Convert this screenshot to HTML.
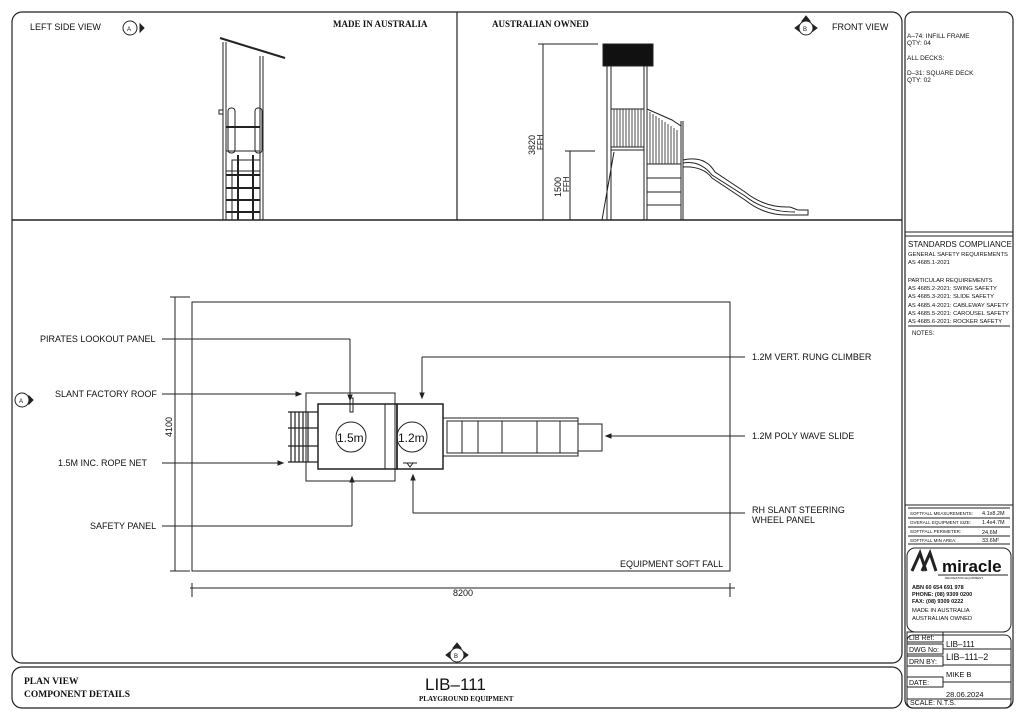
<!DOCTYPE html>
<html><head><meta charset="utf-8"><style>
body{margin:0;background:#fff}
svg{display:block}
text{font-family:"Liberation Sans",sans-serif;fill:#111}
.s{font-family:"Liberation Serif",serif;font-weight:bold}
</style></head><body>
<svg width="1024" height="723" viewBox="0 0 1024 723" fill="none" stroke="#222" stroke-width="1">
<rect x="12" y="12" width="890" height="651" rx="10" stroke-width="1.2"/>
<line x1="12" y1="220" x2="902" y2="220" stroke-width="1.5"/>
<line x1="457" y1="12" x2="457" y2="220" stroke-width="1.2"/>
<rect x="12" y="667" width="890" height="41" rx="10" stroke-width="1.2"/>
<rect x="905" y="12" width="108" height="696" rx="8" stroke-width="1.2"/>
<line x1="905" y1="232" x2="1013" y2="232"/>
<line x1="905" y1="236" x2="1013" y2="236"/>
<line x1="908" y1="326" x2="1010" y2="326"/>
<line x1="905" y1="505" x2="1013" y2="505"/>
<line x1="908" y1="508" x2="1010" y2="508"/>
<line x1="908" y1="518" x2="1010" y2="518"/>
<line x1="908" y1="527" x2="1010" y2="527"/>
<line x1="908" y1="536" x2="1010" y2="536"/>
<line x1="908" y1="544" x2="1010" y2="544"/>
<rect x="907" y="548" width="104" height="84" rx="8"/>
<rect x="907" y="635" width="104" height="73" rx="6"/>

<g stroke="none">
<text x="30" y="30" font-size="9">LEFT SIDE VIEW</text>
<text x="333" y="27" font-size="9" class="s">MADE IN AUSTRALIA</text>
<text x="492" y="27" font-size="9" class="s">AUSTRALIAN OWNED</text>
<text x="832" y="30" font-size="9">FRONT VIEW</text>
<text x="907" y="38" font-size="6.5">A–74: INFILL FRAME</text>
<text x="907" y="45" font-size="6.5">QTY: 04</text>
<text x="907" y="60" font-size="6.5">ALL DECKS:</text>
<text x="907" y="75" font-size="6.5">D–31: SQUARE DECK</text>
<text x="907" y="82" font-size="6.5">QTY: 02</text>
<text x="908" y="247" font-size="8">STANDARDS COMPLIANCE</text>
<text x="908" y="256" font-size="5.8">GENERAL SAFETY REQUIREMENTS</text>
<text x="908" y="264" font-size="5.8">AS 4685.1-2021</text>
<text x="908" y="282" font-size="5.8">PARTICULAR REQUIREMENTS</text>
<text x="908" y="290" font-size="5.8">AS 4685.2-2021: SWING SAFETY</text>
<text x="908" y="298" font-size="5.8">AS 4685.3-2021: SLIDE SAFETY</text>
<text x="908" y="307" font-size="5.8">AS 4685.4-2021: CABLEWAY SAFETY</text>
<text x="908" y="315" font-size="5.8">AS 4685.5-2021: CAROUSEL SAFETY</text>
<text x="908" y="323" font-size="5.8">AS 4685.6-2021: ROCKER SAFETY</text>
<text x="912" y="335" font-size="6">NOTES:</text>
<text x="910" y="515" font-size="4.5">SOFTFALL MEASUREMENTS:</text><text x="982" y="515" font-size="5.5">4.1x8.2M</text>
<text x="910" y="524" font-size="4.5">OVERALL EQUIPMENT SIZE:</text><text x="982" y="524" font-size="5.5">1.4x4.7M</text>
<text x="910" y="533" font-size="4.5">SOFTFALL PERIMETER:</text><text x="982" y="534" font-size="5.5">24.6M</text>
<text x="910" y="542" font-size="4.5">SOFTFALL MIN AREA:</text><text x="982" y="542" font-size="5.5">33.6M²</text>
<text x="942" y="572" font-size="17" font-weight="bold">miracle</text>
<text x="945" y="579" font-size="3">RECREATION EQUIPMENT</text>
<text x="912" y="589" font-size="5.5" font-weight="bold">ABN  60 654 691 978</text>
<text x="912" y="596" font-size="5.5" font-weight="bold">PHONE: (08) 9309 0200</text>
<text x="912" y="603" font-size="5.5" font-weight="bold">FAX:   (08) 9309 0222</text>
<text x="912" y="612" font-size="5.8">MADE IN AUSTRALIA</text>
<text x="912" y="620" font-size="5.8">AUSTRALIAN OWNED</text>
<text x="909" y="640" font-size="7">LIB Ref:</text>
<text x="946" y="647" font-size="8">LIB–111</text>
<text x="909" y="652" font-size="7">DWG No:</text>
<text x="946" y="660" font-size="9">LIB–111–2</text>
<text x="909" y="664" font-size="7">DRN BY:</text>
<text x="946" y="677" font-size="7.5">MIKE B</text>
<text x="909" y="685" font-size="7">DATE:</text>
<text x="946" y="697" font-size="7.5">28.06.2024</text>
<text x="910" y="705" font-size="7">SCALE: N.T.S.</text>
<text x="24" y="684" font-size="9.5" class="s">PLAN VIEW</text>
<text x="24" y="697" font-size="9.5" class="s">COMPONENT DETAILS</text>
<text x="425" y="690" font-size="17" font-weight="300" fill="#333">LIB–111</text>
<text x="419" y="701" font-size="7" class="s">PLAYGROUND EQUIPMENT</text>
</g>
<rect x="907" y="632" width="36" height="10"/><rect x="907" y="644" width="36" height="10"/><rect x="907" y="656" width="36" height="10"/><rect x="907" y="677" width="36" height="10"/>
<line x1="943" y1="649" x2="1011" y2="649"/><line x1="943" y1="665" x2="1011" y2="665"/><line x1="943" y1="682" x2="1011" y2="682"/><line x1="907" y1="699" x2="1011" y2="699"/>
<path d="M912 571 L920 553 L926 571 M922 571 L930 553 L936 571" stroke-width="3"/>
<line x1="938" y1="575" x2="1008" y2="575"/>

<g>
<circle cx="130" cy="28" r="7"/><polygon points="140,24 144,28 140,32" fill="#222"/>
<text x="127" y="31" font-size="6" stroke="none">A</text>
<circle cx="806" cy="28" r="7"/><polygon points="802,21 806,16 810,21" fill="#222"/><polygon points="799,25 795,28 799,31" fill="#222"/><polygon points="813,25 817,28 813,31" fill="#222"/>
<text x="803" y="31" font-size="6" stroke="none">B</text>
<circle cx="22" cy="400" r="7"/><polygon points="29,396 33,400 29,404" fill="#222"/>
<text x="19" y="403" font-size="6" stroke="none">A</text>
<circle cx="457" cy="655" r="7"/><polygon points="453,648 457,643 461,648" fill="#222"/><polygon points="450,652 446,655 450,658" fill="#222"/><polygon points="464,652 468,655 464,658" fill="#222"/>
<text x="454" y="658" font-size="6" stroke="none">B</text>
</g>

<g stroke-width="1">
<line x1="220" y1="38" x2="285" y2="58" stroke-width="2"/>
<line x1="223" y1="42" x2="223" y2="220"/><line x1="226" y1="42" x2="226" y2="220"/>
<line x1="260" y1="56" x2="260" y2="220"/><line x1="263" y1="56" x2="263" y2="220"/>
<rect x="228" y="108" width="7" height="45" rx="3"/><rect x="255" y="108" width="7" height="45" rx="3"/>
<rect x="219" y="110" width="4" height="4"/>
<line x1="226" y1="127" x2="260" y2="127" stroke-width="2"/>
<rect x="226" y="151" width="34" height="20"/>
<rect x="232" y="160" width="28" height="60"/>
<line x1="226" y1="175" x2="260" y2="175" stroke-width="2"/><line x1="226" y1="188" x2="260" y2="188" stroke-width="2"/><line x1="226" y1="200" x2="260" y2="200" stroke-width="2"/><line x1="226" y1="212" x2="260" y2="212" stroke-width="2"/>
<line x1="238" y1="155" x2="238" y2="220" stroke-width="2"/><line x1="253" y1="155" x2="253" y2="220" stroke-width="2"/>
</g>

<g>
<rect x="603" y="44" width="50" height="22" fill="#111"/>
<line x1="607" y1="66" x2="607" y2="220"/><line x1="611" y1="66" x2="611" y2="220"/>
<line x1="644" y1="66" x2="644" y2="220"/><line x1="647" y1="66" x2="647" y2="220"/>
<rect x="611" y="109" width="33" height="38"/>
<g stroke-width="0.8">
<path d="M614 109v38M617 109v38M620 109v38M623 109v38M626 109v38M629 109v38M632 109v38M635 109v38M638 109v38M641 109v38"/>
<path d="M650 112v52M653 114v50M656 116v48M659 118v46M662 120v44M665 122v42M668 124v40M671 126v38M674 128v36M677 130v34"/>
</g>
<path d="M647 109 L672 120 L681 126 L681 164 L647 164"/>
<line x1="681" y1="121" x2="681" y2="220"/><line x1="683" y1="121" x2="683" y2="220"/>
<line x1="611" y1="150" x2="644" y2="150"/>
<line x1="647" y1="178" x2="681" y2="178"/><line x1="647" y1="192" x2="681" y2="192"/><line x1="647" y1="205" x2="681" y2="205"/>
<line x1="614" y1="152" x2="602" y2="220"/>
<path d="M683 160 Q705 155 715 172 L745 192 Q765 208 790 207 L798 210 L808 210 L808 215 L790 215 Q765 216 745 200 L712 178 Q703 166 683 167"/>
<path d="M683 163 Q700 160 712 175 L745 196 Q765 212 795 212"/>
<line x1="538" y1="44" x2="598" y2="44"/><line x1="543" y1="44" x2="543" y2="220"/>
<line x1="565" y1="151" x2="595" y2="151"/><line x1="570" y1="151" x2="570" y2="220"/>
<g stroke="none">
<text transform="translate(535,155) rotate(-90)" font-size="9">3820</text>
<text transform="translate(543,150) rotate(-90)" font-size="8">FFH</text>
<text transform="translate(561,197) rotate(-90)" font-size="9">1500</text>
<text transform="translate(569,192) rotate(-90)" font-size="8">FFH</text>
</g>
</g>

<rect x="192" y="302" width="538" height="269"/>
<text x="620" y="567" font-size="9" stroke="none">EQUIPMENT SOFT FALL</text>
<line x1="170" y1="297" x2="190" y2="297"/><line x1="175" y1="297" x2="175" y2="571"/><line x1="170" y1="571" x2="190" y2="571"/>
<text transform="translate(172,437) rotate(-90)" font-size="9" stroke="none">4100</text>
<line x1="190" y1="588" x2="735" y2="588"/><line x1="192" y1="583" x2="192" y2="597"/><line x1="730" y1="583" x2="730" y2="597"/>
<text x="453" y="596" font-size="9" stroke="none">8200</text>

<rect x="306" y="393" width="89" height="88"/>
<rect x="318" y="404" width="79" height="65" stroke-width="1.5"/>
<rect x="397" y="404" width="46" height="65" stroke-width="1.5"/>
<line x1="385" y1="404" x2="385" y2="469"/>
<circle cx="351" cy="437" r="15"/><circle cx="412" cy="437" r="15"/>
<text x="337" y="442" font-size="12" stroke="none">1.5m</text>
<text x="398" y="442" font-size="12" stroke="none">1.2m</text>
<rect x="350" y="398" width="3" height="14"/>
<path d="M403 463 h14 M407 463 l3 4 l3 -4"/>
<g stroke-width="1.2">
<line x1="288" y1="412" x2="318" y2="412"/><line x1="288" y1="428" x2="318" y2="428"/><line x1="288" y1="446" x2="318" y2="446"/><line x1="288" y1="462" x2="318" y2="462"/>
<line x1="291" y1="412" x2="291" y2="462"/><line x1="295" y1="412" x2="295" y2="462"/><line x1="299" y1="412" x2="299" y2="462"/><line x1="303" y1="412" x2="303" y2="462"/><line x1="308" y1="412" x2="308" y2="462"/>
</g>
<rect x="443" y="418" width="135" height="38"/>
<rect x="447" y="421" width="131" height="32"/>
<path d="M462 421v32M478 421v32M502 421v32M537 421v32M560 421v32"/>
<rect x="578" y="424" width="24" height="27"/>

<g>
<line x1="162" y1="339" x2="350" y2="339"/><line x1="350" y1="339" x2="350" y2="400"/><polygon points="348,395 350,400 352,395" fill="#222"/>
<line x1="162" y1="394" x2="300" y2="394"/><polygon points="296,392 301,394 296,396" fill="#222"/>
<line x1="162" y1="463" x2="282" y2="463"/><polygon points="278,461 283,463 278,465" fill="#222"/>
<line x1="162" y1="526" x2="352" y2="526"/><line x1="352" y1="526" x2="352" y2="477"/><polygon points="350,482 352,477 354,482" fill="#222"/>
<line x1="745" y1="357" x2="422" y2="357"/><line x1="422" y1="357" x2="422" y2="398"/><polygon points="420,393 422,398 424,393" fill="#222"/>
<line x1="745" y1="436" x2="606" y2="436"/><polygon points="611,434 606,436 611,438" fill="#222"/>
<line x1="745" y1="513" x2="413" y2="513"/><line x1="413" y1="513" x2="413" y2="475"/><polygon points="411,480 413,475 415,480" fill="#222"/>
</g>
<g stroke="none" font-size="9">
<text x="40" y="342">PIRATES LOOKOUT PANEL</text>
<text x="55" y="397">SLANT FACTORY ROOF</text>
<text x="58" y="466">1.5M INC. ROPE NET</text>
<text x="90" y="529">SAFETY PANEL</text>
<text x="752" y="360">1.2M VERT. RUNG CLIMBER</text>
<text x="752" y="439">1.2M POLY WAVE SLIDE</text>
<text x="752" y="513">RH SLANT STEERING</text>
<text x="752" y="523">WHEEL PANEL</text>
</g>
</svg>
</body></html>
